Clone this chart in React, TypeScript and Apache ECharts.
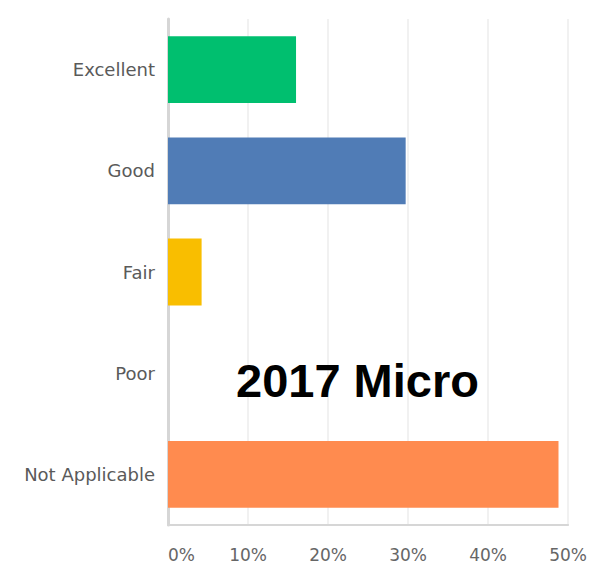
import React, { useEffect, useRef } from "react";
import * as echarts from "echarts";

const categories = ["Excellent", "Good", "Fair", "Poor", "Not Applicable"];
const values = [16.0, 29.7, 4.2, 0, 48.8];
const barColors = ["#00bf6f", "#507cb6", "#f9be00", "#a7a8ab", "#ff8b4f"];
const tickValues = [0, 10, 20, 30, 40, 50];
const titleText = "2017 Micro";

export default function App() {
  const ref = useRef<HTMLDivElement>(null);
  useEffect(() => {
    document.body.style.margin = "0";
    const chart = echarts.init(ref.current!, null, { renderer: "svg" });
    chart.setOption({
      animation: false,
      backgroundColor: "#ffffff",
      grid: { left: 168, right: 17, top: 19, bottom: 43, containLabel: false },
      xAxis: {
        type: "value",
        min: tickValues[0],
        max: tickValues[tickValues.length - 1],
        interval: 10,
        axisLine: { show: true, lineStyle: { color: "#d6d6d6", width: 2 } },
        axisTick: { show: false },
        splitLine: { show: true, lineStyle: { color: "#ececec", width: 1.5 } },
        axisLabel: {
          formatter: "{value}%",
          color: "#666666",
          fontFamily: "DejaVu Sans",
          fontSize: 17,
          margin: 21,
          alignMinLabel: "left",
        },
      },
      yAxis: {
        type: "category",
        data: categories,
        inverse: true,
        axisLine: { show: true, lineStyle: { color: "#d6d6d6", width: 3 } },
        axisTick: { show: false },
        axisLabel: {
          color: "#5a5a5a",
          fontFamily: "DejaVu Sans",
          fontSize: 18,
          margin: 13,
        },
      },
      series: [
        {
          type: "bar",
          data: values.map((v, i) => ({ value: v, itemStyle: { color: barColors[i] } })),
          barWidth: "66%",
        },
      ],
      graphic: [
        {
          type: "text",
          left: 236,
          top: 357,
          z: 100,
          style: {
            text: titleText,
            fill: "#000000",
            font: "bold 47px 'Liberation Sans', Arial, sans-serif",
          },
        },
      ],
    });
    return () => chart.dispose();
  }, []);
  return (
    <div
      ref={ref}
      style={{ width: 590, height: 568, position: "absolute", left: 0, top: 0 }}
    />
  );
}
